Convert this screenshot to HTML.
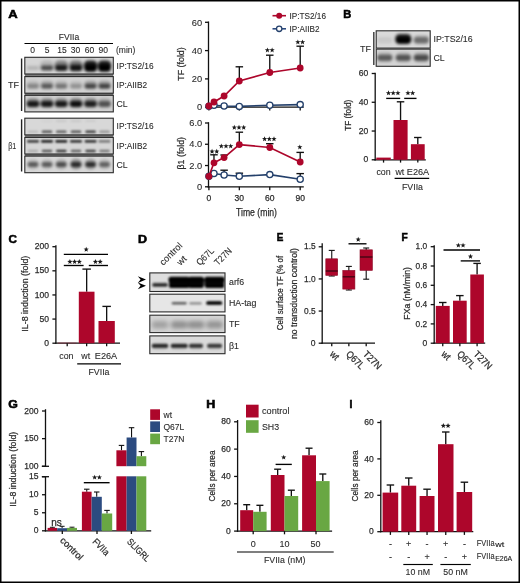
<!DOCTYPE html>
<html><head><meta charset="utf-8"><title>Figure</title>
<style>html,body{margin:0;padding:0;background:#fff}svg{display:block;opacity:0.999;will-change:transform}text{font-family:"Liberation Sans",sans-serif;stroke:#2b2b2b;stroke-width:0.1px}.c{stroke:#2b2b2b;stroke-width:0.25px}</style></head>
<body>
<svg width="520" height="583" viewBox="0 0 520 583" font-family="'Liberation Sans', sans-serif">
<defs>
<filter id="bl0_8" x="-20%" y="-50%" width="140%" height="200%"><feGaussianBlur stdDeviation="0.8"/></filter>
<filter id="bl1_0" x="-20%" y="-50%" width="140%" height="200%"><feGaussianBlur stdDeviation="1.0"/></filter>
<filter id="bl1_2" x="-20%" y="-50%" width="140%" height="200%"><feGaussianBlur stdDeviation="1.2"/></filter>
<filter id="bl1_6" x="-20%" y="-50%" width="140%" height="200%"><feGaussianBlur stdDeviation="1.6"/></filter>
<filter id="bl1_8" x="-20%" y="-50%" width="140%" height="200%"><feGaussianBlur stdDeviation="1.8"/></filter>
<filter id="bl2_0" x="-20%" y="-50%" width="140%" height="200%"><feGaussianBlur stdDeviation="2.0"/></filter>
</defs>
<rect x="0.00" y="0.00" width="520.00" height="583.00" fill="#fff"/>
<rect x="0.75" y="0.75" width="518.5" height="581.5" fill="none" stroke="#000" stroke-width="1.5"/>
<text x="8.2" y="18.1" font-size="10.6" font-weight="bold" fill="#000" textLength="9.4" lengthAdjust="spacingAndGlyphs" style="stroke:#000;stroke-width:0.55px">A</text>
<text x="343.3" y="18.4" font-size="10.6" font-weight="bold" fill="#000" textLength="8.0" lengthAdjust="spacingAndGlyphs" style="stroke:#000;stroke-width:0.55px">B</text>
<text x="8.6" y="242.8" font-size="10.6" font-weight="bold" fill="#000" textLength="8.4" lengthAdjust="spacingAndGlyphs" style="stroke:#000;stroke-width:0.55px">C</text>
<text x="138.0" y="243.0" font-size="10.6" font-weight="bold" fill="#000" textLength="9.0" lengthAdjust="spacingAndGlyphs" style="stroke:#000;stroke-width:0.55px">D</text>
<text x="276.8" y="241.4" font-size="10.6" font-weight="bold" fill="#000" textLength="6.6" lengthAdjust="spacingAndGlyphs" style="stroke:#000;stroke-width:0.55px">E</text>
<text x="401.4" y="241.4" font-size="10.6" font-weight="bold" fill="#000" textLength="6.2" lengthAdjust="spacingAndGlyphs" style="stroke:#000;stroke-width:0.55px">F</text>
<text x="8.3" y="407.6" font-size="10.6" font-weight="bold" fill="#000" textLength="9.6" lengthAdjust="spacingAndGlyphs" style="stroke:#000;stroke-width:0.55px">G</text>
<text x="206.3" y="407.9" font-size="10.6" font-weight="bold" fill="#000" textLength="9.0" lengthAdjust="spacingAndGlyphs" style="stroke:#000;stroke-width:0.55px">H</text>
<text x="349.4" y="407.9" font-size="10.6" font-weight="bold" fill="#000" textLength="2.9" lengthAdjust="spacingAndGlyphs" style="stroke:#000;stroke-width:0.55px">I</text>
<line x1="24.5" y1="43.5" x2="113" y2="43.5" stroke="#000" stroke-width="1.2" stroke-linecap="butt"/>
<text x="69" y="39.6" font-size="8.8" text-anchor="middle" fill="#2b2b2b" textLength="20.5" lengthAdjust="spacingAndGlyphs">FVIIa</text>
<text x="32.5" y="53.2" font-size="8.5" text-anchor="middle" fill="#2b2b2b">0</text>
<text x="47" y="53.2" font-size="8.5" text-anchor="middle" fill="#2b2b2b">5</text>
<text x="62" y="53.2" font-size="8.5" text-anchor="middle" fill="#2b2b2b">15</text>
<text x="75.5" y="53.2" font-size="8.5" text-anchor="middle" fill="#2b2b2b">30</text>
<text x="89.5" y="53.2" font-size="8.5" text-anchor="middle" fill="#2b2b2b">60</text>
<text x="103.3" y="53.2" font-size="8.5" text-anchor="middle" fill="#2b2b2b">90</text>
<text x="116" y="53.2" font-size="8.5" text-anchor="start" fill="#2b2b2b">(min)</text>
<rect x="24.80" y="73.00" width="88.50" height="24.00" fill="#7a7a7a"/>
<rect x="24.80" y="134.00" width="88.50" height="24.00" fill="#7a7a7a"/>
<g clip-path="url(#ca1)">
<clipPath id="ca1"><rect x="24.8" y="57.3" width="88.5" height="16.7"/></clipPath>
<rect x="24.80" y="57.30" width="88.50" height="16.70" fill="#d6d6d6"/>
<g filter="url(#bl1_6)">
<rect x="26.75" y="66.00" width="12.50" height="4.00" rx="1.82" fill="#000" fill-opacity="0.16"/>
<rect x="40.75" y="65.50" width="12.50" height="5.00" rx="2.27" fill="#000" fill-opacity="0.6"/>
<rect x="55.05" y="65.00" width="12.50" height="6.00" rx="2.73" fill="#000" fill-opacity="0.8"/>
<rect x="69.75" y="64.75" width="12.50" height="6.50" rx="2.95" fill="#000" fill-opacity="0.85"/>
<rect x="84.35" y="64.25" width="12.50" height="7.50" rx="3.41" fill="#000" fill-opacity="1.0"/>
<rect x="98.25" y="64.25" width="12.50" height="7.50" rx="3.41" fill="#000" fill-opacity="1.0"/>
<rect x="26.25" y="60.50" width="13.50" height="10.00" rx="4.55" fill="#000" fill-opacity="0"/>
<rect x="40.25" y="60.50" width="13.50" height="10.00" rx="4.55" fill="#000" fill-opacity="0.15"/>
<rect x="54.55" y="60.50" width="13.50" height="10.00" rx="4.55" fill="#000" fill-opacity="0.4"/>
<rect x="69.25" y="60.50" width="13.50" height="10.00" rx="4.55" fill="#000" fill-opacity="0.45"/>
<rect x="83.85" y="60.50" width="13.50" height="10.00" rx="4.55" fill="#000" fill-opacity="0.85"/>
<rect x="97.75" y="60.50" width="13.50" height="10.00" rx="4.55" fill="#000" fill-opacity="0.85"/>
</g></g>
<rect x="24.8" y="57.3" width="88.5" height="16.7" fill="none" stroke="#2a2a2a" stroke-width="1.1"/>
<g clip-path="url(#ca2)">
<clipPath id="ca2"><rect x="24.8" y="76.6" width="88.5" height="16.6"/></clipPath>
<rect x="24.80" y="76.60" width="88.50" height="16.60" fill="#d3d3d3"/>
<g filter="url(#bl1_6)">
<rect x="27.00" y="83.70" width="12.00" height="5.00" rx="2.27" fill="#000" fill-opacity="0.3"/>
<rect x="41.00" y="83.70" width="12.00" height="5.00" rx="2.27" fill="#000" fill-opacity="0.5"/>
<rect x="55.30" y="83.70" width="12.00" height="5.00" rx="2.27" fill="#000" fill-opacity="0.38"/>
<rect x="70.00" y="83.70" width="12.00" height="5.00" rx="2.27" fill="#000" fill-opacity="0.25"/>
<rect x="84.60" y="83.70" width="12.00" height="5.00" rx="2.27" fill="#000" fill-opacity="0.6"/>
<rect x="98.50" y="83.70" width="12.00" height="5.00" rx="2.27" fill="#000" fill-opacity="0.62"/>
<rect x="26.75" y="80.50" width="12.50" height="8.00" rx="3.64" fill="#000" fill-opacity="0.1"/>
<rect x="40.75" y="80.50" width="12.50" height="8.00" rx="3.64" fill="#000" fill-opacity="0.18"/>
<rect x="55.05" y="80.50" width="12.50" height="8.00" rx="3.64" fill="#000" fill-opacity="0.12"/>
<rect x="69.75" y="80.50" width="12.50" height="8.00" rx="3.64" fill="#000" fill-opacity="0.08"/>
<rect x="84.35" y="80.50" width="12.50" height="8.00" rx="3.64" fill="#000" fill-opacity="0.22"/>
<rect x="98.25" y="80.50" width="12.50" height="8.00" rx="3.64" fill="#000" fill-opacity="0.22"/>
</g></g>
<rect x="24.8" y="76.6" width="88.5" height="16.6" fill="none" stroke="#2a2a2a" stroke-width="1.1"/>
<g clip-path="url(#ca3)">
<clipPath id="ca3"><rect x="24.8" y="95.3" width="88.5" height="16.6"/></clipPath>
<rect x="24.80" y="95.30" width="88.50" height="16.60" fill="#d0d0d0"/>
<g filter="url(#bl1_6)">
<rect x="26.75" y="101.00" width="12.50" height="6.00" rx="2.73" fill="#000" fill-opacity="0.85"/>
<rect x="40.75" y="101.00" width="12.50" height="6.00" rx="2.73" fill="#000" fill-opacity="0.85"/>
<rect x="55.05" y="101.00" width="12.50" height="6.00" rx="2.73" fill="#000" fill-opacity="0.85"/>
<rect x="69.75" y="101.00" width="12.50" height="6.00" rx="2.73" fill="#000" fill-opacity="0.9"/>
<rect x="84.35" y="101.00" width="12.50" height="6.00" rx="2.73" fill="#000" fill-opacity="0.8"/>
<rect x="98.25" y="101.00" width="12.50" height="6.00" rx="2.73" fill="#000" fill-opacity="0.55"/>
<rect x="26.50" y="98.05" width="13.00" height="9.50" rx="4.32" fill="#000" fill-opacity="0.3"/>
<rect x="40.50" y="98.05" width="13.00" height="9.50" rx="4.32" fill="#000" fill-opacity="0.3"/>
<rect x="54.80" y="98.05" width="13.00" height="9.50" rx="4.32" fill="#000" fill-opacity="0.3"/>
<rect x="69.50" y="98.05" width="13.00" height="9.50" rx="4.32" fill="#000" fill-opacity="0.35"/>
<rect x="84.10" y="98.05" width="13.00" height="9.50" rx="4.32" fill="#000" fill-opacity="0.3"/>
<rect x="98.00" y="98.05" width="13.00" height="9.50" rx="4.32" fill="#000" fill-opacity="0.15"/>
</g></g>
<rect x="24.8" y="95.3" width="88.5" height="16.6" fill="none" stroke="#2a2a2a" stroke-width="1.1"/>
<line x1="21.6" y1="58.5" x2="21.6" y2="111" stroke="#222" stroke-width="1.4" stroke-linecap="butt"/>
<text x="8.0" y="87.7" font-size="9" text-anchor="start" fill="#2b2b2b">TF</text>
<text x="116.6" y="69.2" font-size="8.7" text-anchor="start" fill="#2b2b2b" textLength="37" lengthAdjust="spacingAndGlyphs">IP:TS2/16</text>
<text x="116.6" y="88" font-size="8.7" text-anchor="start" fill="#2b2b2b" textLength="30.5" lengthAdjust="spacingAndGlyphs">IP:AIIB2</text>
<text x="116.6" y="106.5" font-size="8.7" text-anchor="start" fill="#2b2b2b">CL</text>
<g clip-path="url(#ca4)">
<clipPath id="ca4"><rect x="24.8" y="118.2" width="88.5" height="16.7"/></clipPath>
<rect x="24.80" y="118.20" width="88.50" height="16.70" fill="#d8d8d8"/>
<g filter="url(#bl1_0)">
<rect x="27.75" y="130.50" width="10.50" height="2.60" rx="1.18" fill="#000" fill-opacity="0.12"/>
<rect x="41.75" y="130.50" width="10.50" height="2.60" rx="1.18" fill="#000" fill-opacity="0.6"/>
<rect x="56.05" y="130.50" width="10.50" height="2.60" rx="1.18" fill="#000" fill-opacity="0.55"/>
<rect x="70.75" y="130.50" width="10.50" height="2.60" rx="1.18" fill="#000" fill-opacity="0.6"/>
<rect x="85.35" y="130.50" width="10.50" height="2.60" rx="1.18" fill="#000" fill-opacity="0.7"/>
<rect x="99.25" y="130.50" width="10.50" height="2.60" rx="1.18" fill="#000" fill-opacity="0.3"/>
<rect x="27.50" y="120.00" width="11.00" height="2.00" rx="0.91" fill="#000" fill-opacity="0.0"/>
<rect x="41.50" y="120.00" width="11.00" height="2.00" rx="0.91" fill="#000" fill-opacity="0.03"/>
<rect x="55.80" y="120.00" width="11.00" height="2.00" rx="0.91" fill="#000" fill-opacity="0.08"/>
<rect x="70.50" y="120.00" width="11.00" height="2.00" rx="0.91" fill="#000" fill-opacity="0.08"/>
<rect x="85.10" y="120.00" width="11.00" height="2.00" rx="0.91" fill="#000" fill-opacity="0.06"/>
<rect x="99.00" y="120.00" width="11.00" height="2.00" rx="0.91" fill="#000" fill-opacity="0.0"/>
</g></g>
<rect x="24.8" y="118.2" width="88.5" height="16.7" fill="none" stroke="#2a2a2a" stroke-width="1.1"/>
<g clip-path="url(#ca5)">
<clipPath id="ca5"><rect x="24.8" y="137.4" width="88.5" height="16.6"/></clipPath>
<rect x="24.80" y="137.40" width="88.50" height="16.60" fill="#d6d6d6"/>
<g filter="url(#bl0_8)">
<rect x="27.00" y="140.15" width="12.00" height="2.30" rx="1.05" fill="#000" fill-opacity="0.85"/>
<rect x="41.00" y="140.15" width="12.00" height="2.30" rx="1.05" fill="#000" fill-opacity="1.0"/>
<rect x="55.30" y="140.15" width="12.00" height="2.30" rx="1.05" fill="#000" fill-opacity="1.0"/>
<rect x="70.00" y="140.15" width="12.00" height="2.30" rx="1.05" fill="#000" fill-opacity="0.9"/>
<rect x="84.60" y="140.15" width="12.00" height="2.30" rx="1.05" fill="#000" fill-opacity="0.9"/>
<rect x="98.50" y="140.15" width="12.00" height="2.30" rx="1.05" fill="#000" fill-opacity="0.5"/>
<rect x="27.75" y="149.70" width="10.50" height="2.60" rx="1.18" fill="#000" fill-opacity="0.2"/>
<rect x="41.75" y="149.70" width="10.50" height="2.60" rx="1.18" fill="#000" fill-opacity="0.6"/>
<rect x="56.05" y="149.70" width="10.50" height="2.60" rx="1.18" fill="#000" fill-opacity="0.75"/>
<rect x="70.75" y="149.70" width="10.50" height="2.60" rx="1.18" fill="#000" fill-opacity="0.55"/>
<rect x="85.35" y="149.70" width="10.50" height="2.60" rx="1.18" fill="#000" fill-opacity="0.7"/>
<rect x="99.25" y="149.70" width="10.50" height="2.60" rx="1.18" fill="#000" fill-opacity="0.45"/>
</g></g>
<rect x="24.8" y="137.4" width="88.5" height="16.6" fill="none" stroke="#2a2a2a" stroke-width="1.1"/>
<g clip-path="url(#ca6)">
<clipPath id="ca6"><rect x="24.8" y="156.1" width="88.5" height="16.6"/></clipPath>
<rect x="24.80" y="156.10" width="88.50" height="16.60" fill="#d8d8d8"/>
<g filter="url(#bl1_6)">
<rect x="27.50" y="162.00" width="11.00" height="5.00" rx="2.27" fill="#000" fill-opacity="0.55"/>
<rect x="41.50" y="162.00" width="11.00" height="5.00" rx="2.27" fill="#000" fill-opacity="0.55"/>
<rect x="55.80" y="162.00" width="11.00" height="5.00" rx="2.27" fill="#000" fill-opacity="0.6"/>
<rect x="70.50" y="162.00" width="11.00" height="5.00" rx="2.27" fill="#000" fill-opacity="0.75"/>
<rect x="85.10" y="162.00" width="11.00" height="5.00" rx="2.27" fill="#000" fill-opacity="0.75"/>
<rect x="99.00" y="162.00" width="11.00" height="5.00" rx="2.27" fill="#000" fill-opacity="0.5"/>
<rect x="27.50" y="158.50" width="11.00" height="11.00" rx="5.00" fill="#000" fill-opacity="0.1"/>
<rect x="41.50" y="158.50" width="11.00" height="11.00" rx="5.00" fill="#000" fill-opacity="0.1"/>
<rect x="55.80" y="158.50" width="11.00" height="11.00" rx="5.00" fill="#000" fill-opacity="0.15"/>
<rect x="70.50" y="158.50" width="11.00" height="11.00" rx="5.00" fill="#000" fill-opacity="0.3"/>
<rect x="85.10" y="158.50" width="11.00" height="11.00" rx="5.00" fill="#000" fill-opacity="0.25"/>
<rect x="99.00" y="158.50" width="11.00" height="11.00" rx="5.00" fill="#000" fill-opacity="0.12"/>
</g></g>
<rect x="24.8" y="156.1" width="88.5" height="16.6" fill="none" stroke="#2a2a2a" stroke-width="1.1"/>
<line x1="21.6" y1="119.3" x2="21.6" y2="171.5" stroke="#222" stroke-width="1.4" stroke-linecap="butt"/>
<text x="8.2" y="149.2" font-size="8.8" text-anchor="start" fill="#2b2b2b" textLength="8" lengthAdjust="spacingAndGlyphs">β1</text>
<text x="116.6" y="129.4" font-size="8.7" text-anchor="start" fill="#2b2b2b" textLength="37" lengthAdjust="spacingAndGlyphs">IP:TS2/16</text>
<text x="116.6" y="148.5" font-size="8.7" text-anchor="start" fill="#2b2b2b" textLength="30.5" lengthAdjust="spacingAndGlyphs">IP:AIIB2</text>
<text x="116.6" y="167.7" font-size="8.7" text-anchor="start" fill="#2b2b2b">CL</text>
<line x1="208.5" y1="21.5" x2="208.5" y2="107.85000000000001" stroke="#111" stroke-width="1.3" stroke-linecap="butt"/>
<line x1="205.0" y1="107.2" x2="208.5" y2="107.2" stroke="#111" stroke-width="1.3" stroke-linecap="butt"/>
<text x="202.2" y="110.4" font-size="9.3" text-anchor="end" fill="#2b2b2b">0</text>
<line x1="205.0" y1="78.9" x2="208.5" y2="78.9" stroke="#111" stroke-width="1.3" stroke-linecap="butt"/>
<text x="202.2" y="82.10000000000001" font-size="9.3" text-anchor="end" fill="#2b2b2b">20</text>
<line x1="205.0" y1="50.6" x2="208.5" y2="50.6" stroke="#111" stroke-width="1.3" stroke-linecap="butt"/>
<text x="202.2" y="53.800000000000004" font-size="9.3" text-anchor="end" fill="#2b2b2b">40</text>
<line x1="205.0" y1="22.299999999999997" x2="208.5" y2="22.299999999999997" stroke="#111" stroke-width="1.3" stroke-linecap="butt"/>
<text x="202.2" y="25.499999999999996" font-size="9.3" text-anchor="end" fill="#2b2b2b">60</text>
<line x1="207.6" y1="107.2" x2="303.8" y2="107.2" stroke="#111" stroke-width="1.3" stroke-linecap="butt"/>
<line x1="208.9" y1="107.2" x2="208.9" y2="110.6" stroke="#111" stroke-width="1.3" stroke-linecap="butt"/>
<line x1="239.33333333333334" y1="107.2" x2="239.33333333333334" y2="110.6" stroke="#111" stroke-width="1.3" stroke-linecap="butt"/>
<line x1="269.76666666666665" y1="107.2" x2="269.76666666666665" y2="110.6" stroke="#111" stroke-width="1.3" stroke-linecap="butt"/>
<line x1="300.2" y1="107.2" x2="300.2" y2="110.6" stroke="#111" stroke-width="1.3" stroke-linecap="butt"/>
<text class="c" x="181.2" y="64.0" font-size="9.8" text-anchor="middle" fill="#2b2b2b" textLength="33.5" lengthAdjust="spacingAndGlyphs" transform="rotate(-90 181.2 64.0)" dy="2.55">TF (fold)</text>
<polyline points="208.9,106.2 214.0,105.2 224.1,106 239.3,106.4 269.8,105.2 300.2,104.6" fill="none" stroke="#24406b" stroke-width="1.6"/>
<circle cx="208.9" cy="106.2" r="3.1" fill="#fff" stroke="#24406b" stroke-width="1.3"/>
<circle cx="214.0" cy="105.2" r="3.1" fill="#fff" stroke="#24406b" stroke-width="1.3"/>
<circle cx="224.1" cy="106" r="3.1" fill="#fff" stroke="#24406b" stroke-width="1.3"/>
<circle cx="239.3" cy="106.4" r="3.1" fill="#fff" stroke="#24406b" stroke-width="1.3"/>
<circle cx="269.8" cy="105.2" r="3.1" fill="#fff" stroke="#24406b" stroke-width="1.3"/>
<circle cx="300.2" cy="104.6" r="3.1" fill="#fff" stroke="#24406b" stroke-width="1.3"/>
<line x1="239.33333333333334" y1="81" x2="239.33333333333334" y2="66.8" stroke="#111" stroke-width="1.35" stroke-linecap="butt"/>
<line x1="235.58333333333334" y1="66.8" x2="243.08333333333334" y2="66.8" stroke="#111" stroke-width="1.35" stroke-linecap="butt"/>
<line x1="269.76666666666665" y1="72.5" x2="269.76666666666665" y2="55.2" stroke="#111" stroke-width="1.35" stroke-linecap="butt"/>
<line x1="266.01666666666665" y1="55.2" x2="273.51666666666665" y2="55.2" stroke="#111" stroke-width="1.35" stroke-linecap="butt"/>
<line x1="300.2" y1="68" x2="300.2" y2="46.2" stroke="#111" stroke-width="1.35" stroke-linecap="butt"/>
<line x1="296.45" y1="46.2" x2="303.95" y2="46.2" stroke="#111" stroke-width="1.35" stroke-linecap="butt"/>
<polyline points="208.9,106 214.0,102 224.1,96 239.3,81 269.8,72.5 300.2,68" fill="none" stroke="#ad062b" stroke-width="1.7"/>
<circle cx="208.9" cy="106" r="3.4" fill="#ad062b"/>
<circle cx="214.0" cy="102" r="3.4" fill="#ad062b"/>
<circle cx="224.1" cy="96" r="3.4" fill="#ad062b"/>
<circle cx="239.3" cy="81" r="3.4" fill="#ad062b"/>
<circle cx="269.8" cy="72.5" r="3.4" fill="#ad062b"/>
<circle cx="300.2" cy="68" r="3.4" fill="#ad062b"/>
<polygon points="267.42,47.45 268.09,49.27 270.03,49.35 268.51,50.56 269.03,52.42 267.42,51.35 265.80,52.42 266.32,50.56 264.80,49.35 266.74,49.27" fill="#1a1a1a"/>
<polygon points="272.12,47.45 272.79,49.27 274.73,49.35 273.21,50.56 273.73,52.42 272.12,51.35 270.50,52.42 271.02,50.56 269.50,49.35 271.44,49.27" fill="#1a1a1a"/>
<polygon points="297.85,39.45 298.53,41.27 300.47,41.35 298.94,42.56 299.47,44.42 297.85,43.35 296.23,44.42 296.76,42.56 295.23,41.35 297.17,41.27" fill="#1a1a1a"/>
<polygon points="302.55,39.45 303.23,41.27 305.17,41.35 303.64,42.56 304.17,44.42 302.55,43.35 300.93,44.42 301.46,42.56 299.93,41.35 301.87,41.27" fill="#1a1a1a"/>
<line x1="272.5" y1="15.7" x2="286" y2="15.7" stroke="#ad062b" stroke-width="1.6" stroke-linecap="butt"/>
<circle cx="279.2" cy="15.7" r="3" fill="#ad062b"/>
<text x="289.5" y="18.7" font-size="8.4" text-anchor="start" fill="#2b2b2b" textLength="36.5" lengthAdjust="spacingAndGlyphs">IP:TS2/16</text>
<line x1="272.5" y1="28.8" x2="286" y2="28.8" stroke="#2c4b80" stroke-width="1.6" stroke-linecap="butt"/>
<circle cx="279.2" cy="28.8" r="2.7" fill="#fff" stroke="#24406b" stroke-width="1.3"/>
<text x="289.5" y="31.8" font-size="8.4" text-anchor="start" fill="#2b2b2b" textLength="30" lengthAdjust="spacingAndGlyphs">IP:AIIB2</text>
<line x1="208.5" y1="122.2" x2="208.5" y2="187.45000000000002" stroke="#111" stroke-width="1.3" stroke-linecap="butt"/>
<line x1="205.0" y1="186.8" x2="208.5" y2="186.8" stroke="#111" stroke-width="1.3" stroke-linecap="butt"/>
<text x="202.2" y="190.0" font-size="9.3" text-anchor="end" fill="#2b2b2b">0</text>
<line x1="205.0" y1="165.53333333333333" x2="208.5" y2="165.53333333333333" stroke="#111" stroke-width="1.3" stroke-linecap="butt"/>
<text x="202.2" y="168.73333333333332" font-size="9.3" text-anchor="end" fill="#2b2b2b">2.0</text>
<line x1="205.0" y1="144.26666666666668" x2="208.5" y2="144.26666666666668" stroke="#111" stroke-width="1.3" stroke-linecap="butt"/>
<text x="202.2" y="147.46666666666667" font-size="9.3" text-anchor="end" fill="#2b2b2b">4.0</text>
<line x1="205.0" y1="123.0" x2="208.5" y2="123.0" stroke="#111" stroke-width="1.3" stroke-linecap="butt"/>
<text x="202.2" y="126.2" font-size="9.3" text-anchor="end" fill="#2b2b2b">6.0</text>
<line x1="207.6" y1="186.8" x2="303.8" y2="186.8" stroke="#111" stroke-width="1.3" stroke-linecap="butt"/>
<line x1="208.9" y1="186.8" x2="208.9" y2="190.2" stroke="#111" stroke-width="1.3" stroke-linecap="butt"/>
<text x="208.9" y="201.3" font-size="9" text-anchor="middle" fill="#2b2b2b" textLength="4.75" lengthAdjust="spacingAndGlyphs" class="c">0</text>
<line x1="239.33333333333334" y1="186.8" x2="239.33333333333334" y2="190.2" stroke="#111" stroke-width="1.3" stroke-linecap="butt"/>
<text x="239.33333333333334" y="201.3" font-size="9" text-anchor="middle" fill="#2b2b2b" textLength="9.5" lengthAdjust="spacingAndGlyphs" class="c">30</text>
<line x1="269.76666666666665" y1="186.8" x2="269.76666666666665" y2="190.2" stroke="#111" stroke-width="1.3" stroke-linecap="butt"/>
<text x="269.76666666666665" y="201.3" font-size="9" text-anchor="middle" fill="#2b2b2b" textLength="9.5" lengthAdjust="spacingAndGlyphs" class="c">60</text>
<line x1="300.2" y1="186.8" x2="300.2" y2="190.2" stroke="#111" stroke-width="1.3" stroke-linecap="butt"/>
<text x="300.2" y="201.3" font-size="9" text-anchor="middle" fill="#2b2b2b" textLength="9.5" lengthAdjust="spacingAndGlyphs" class="c">90</text>
<text x="256.5" y="216.3" font-size="10.4" text-anchor="middle" fill="#2b2b2b" textLength="41" lengthAdjust="spacingAndGlyphs" class="c">Time (min)</text>
<text class="c" x="181.2" y="153.2" font-size="9.8" text-anchor="middle" fill="#2b2b2b" textLength="32.5" lengthAdjust="spacingAndGlyphs" transform="rotate(-90 181.2 153.2)" dy="2.55">β1 (fold)</text>
<line x1="224.11666666666667" y1="175" x2="224.11666666666667" y2="170.2" stroke="#111" stroke-width="1.35" stroke-linecap="butt"/>
<line x1="220.36666666666667" y1="170.2" x2="227.86666666666667" y2="170.2" stroke="#111" stroke-width="1.35" stroke-linecap="butt"/>
<line x1="239.33333333333334" y1="176.3" x2="239.33333333333334" y2="173.2" stroke="#111" stroke-width="1.35" stroke-linecap="butt"/>
<line x1="235.58333333333334" y1="173.2" x2="243.08333333333334" y2="173.2" stroke="#111" stroke-width="1.35" stroke-linecap="butt"/>
<line x1="300.2" y1="179.2" x2="300.2" y2="173.6" stroke="#111" stroke-width="1.35" stroke-linecap="butt"/>
<line x1="296.45" y1="173.6" x2="303.95" y2="173.6" stroke="#111" stroke-width="1.35" stroke-linecap="butt"/>
<polyline points="208.9,176.3 214.0,173.5 224.1,175 239.3,176.3 269.8,174.6 300.2,179.2" fill="none" stroke="#24406b" stroke-width="1.6"/>
<circle cx="208.9" cy="176.3" r="3.1" fill="#fff" stroke="#24406b" stroke-width="1.3"/>
<circle cx="214.0" cy="173.5" r="3.1" fill="#fff" stroke="#24406b" stroke-width="1.3"/>
<circle cx="224.1" cy="175" r="3.1" fill="#fff" stroke="#24406b" stroke-width="1.3"/>
<circle cx="239.3" cy="176.3" r="3.1" fill="#fff" stroke="#24406b" stroke-width="1.3"/>
<circle cx="269.8" cy="174.6" r="3.1" fill="#fff" stroke="#24406b" stroke-width="1.3"/>
<circle cx="300.2" cy="179.2" r="3.1" fill="#fff" stroke="#24406b" stroke-width="1.3"/>
<line x1="213.97222222222223" y1="162.8" x2="213.97222222222223" y2="154.8" stroke="#111" stroke-width="1.35" stroke-linecap="butt"/>
<line x1="210.22222222222223" y1="154.8" x2="217.72222222222223" y2="154.8" stroke="#111" stroke-width="1.35" stroke-linecap="butt"/>
<line x1="224.11666666666667" y1="157.6" x2="224.11666666666667" y2="155.0" stroke="#111" stroke-width="1.35" stroke-linecap="butt"/>
<line x1="220.36666666666667" y1="155.0" x2="227.86666666666667" y2="155.0" stroke="#111" stroke-width="1.35" stroke-linecap="butt"/>
<line x1="239.33333333333334" y1="144.6" x2="239.33333333333334" y2="132.2" stroke="#111" stroke-width="1.35" stroke-linecap="butt"/>
<line x1="235.58333333333334" y1="132.2" x2="243.08333333333334" y2="132.2" stroke="#111" stroke-width="1.35" stroke-linecap="butt"/>
<line x1="269.76666666666665" y1="147.5" x2="269.76666666666665" y2="143.7" stroke="#111" stroke-width="1.35" stroke-linecap="butt"/>
<line x1="266.01666666666665" y1="143.7" x2="273.51666666666665" y2="143.7" stroke="#111" stroke-width="1.35" stroke-linecap="butt"/>
<line x1="300.2" y1="162" x2="300.2" y2="152.4" stroke="#111" stroke-width="1.35" stroke-linecap="butt"/>
<line x1="296.45" y1="152.4" x2="303.95" y2="152.4" stroke="#111" stroke-width="1.35" stroke-linecap="butt"/>
<polyline points="208.9,176.3 214.0,162.8 224.1,157.6 239.3,144.6 269.8,147.5 300.2,162" fill="none" stroke="#ad062b" stroke-width="1.7"/>
<circle cx="208.9" cy="176.3" r="3.4" fill="#ad062b"/>
<circle cx="214.0" cy="162.8" r="3.4" fill="#ad062b"/>
<circle cx="224.1" cy="157.6" r="3.4" fill="#ad062b"/>
<circle cx="239.3" cy="144.6" r="3.4" fill="#ad062b"/>
<circle cx="269.8" cy="147.5" r="3.4" fill="#ad062b"/>
<circle cx="300.2" cy="162" r="3.4" fill="#ad062b"/>
<polygon points="212.05,148.75 212.73,150.57 214.67,150.65 213.14,151.86 213.67,153.72 212.05,152.65 210.43,153.72 210.96,151.86 209.43,150.65 211.37,150.57" fill="#1a1a1a"/>
<polygon points="216.75,148.75 217.43,150.57 219.37,150.65 217.84,151.86 218.37,153.72 216.75,152.65 215.13,153.72 215.66,151.86 214.13,150.65 216.07,150.57" fill="#1a1a1a"/>
<polygon points="221.30,143.45 221.98,145.27 223.92,145.35 222.39,146.56 222.92,148.42 221.30,147.35 219.68,148.42 220.21,146.56 218.68,145.35 220.62,145.27" fill="#1a1a1a"/>
<polygon points="226.00,143.45 226.68,145.27 228.62,145.35 227.09,146.56 227.62,148.42 226.00,147.35 224.38,148.42 224.91,146.56 223.38,145.35 225.32,145.27" fill="#1a1a1a"/>
<polygon points="230.70,143.45 231.38,145.27 233.32,145.35 231.79,146.56 232.32,148.42 230.70,147.35 229.08,148.42 229.61,146.56 228.08,145.35 230.02,145.27" fill="#1a1a1a"/>
<polygon points="234.30,124.75 234.98,126.57 236.92,126.65 235.39,127.86 235.92,129.72 234.30,128.65 232.68,129.72 233.21,127.86 231.68,126.65 233.62,126.57" fill="#1a1a1a"/>
<polygon points="239.00,124.75 239.68,126.57 241.62,126.65 240.09,127.86 240.62,129.72 239.00,128.65 237.38,129.72 237.91,127.86 236.38,126.65 238.32,126.57" fill="#1a1a1a"/>
<polygon points="243.70,124.75 244.38,126.57 246.32,126.65 244.79,127.86 245.32,129.72 243.70,128.65 242.08,129.72 242.61,127.86 241.08,126.65 243.02,126.57" fill="#1a1a1a"/>
<polygon points="264.60,136.25 265.28,138.07 267.22,138.15 265.69,139.36 266.22,141.22 264.60,140.15 262.98,141.22 263.51,139.36 261.98,138.15 263.92,138.07" fill="#1a1a1a"/>
<polygon points="269.30,136.25 269.98,138.07 271.92,138.15 270.39,139.36 270.92,141.22 269.30,140.15 267.68,141.22 268.21,139.36 266.68,138.15 268.62,138.07" fill="#1a1a1a"/>
<polygon points="274.00,136.25 274.68,138.07 276.62,138.15 275.09,139.36 275.62,141.22 274.00,140.15 272.38,141.22 272.91,139.36 271.38,138.15 273.32,138.07" fill="#1a1a1a"/>
<polygon points="299.80,144.45 300.48,146.27 302.42,146.35 300.89,147.56 301.42,149.42 299.80,148.35 298.18,149.42 298.71,147.56 297.18,146.35 299.12,146.27" fill="#1a1a1a"/>
<g clip-path="url(#cb1)">
<clipPath id="cb1"><rect x="376.2" y="30.8" width="54" height="17.3"/></clipPath>
<rect x="376.20" y="30.80" width="54.00" height="17.30" fill="#dadada"/>
<g filter="url(#bl1_6)">
<rect x="377.30" y="37.05" width="15.00" height="6.50" rx="2.95" fill="#000" fill-opacity="0.08"/>
<rect x="395.80" y="37.05" width="15.00" height="6.50" rx="2.95" fill="#000" fill-opacity="1.0"/>
<rect x="413.80" y="37.05" width="15.00" height="6.50" rx="2.95" fill="#000" fill-opacity="0.42"/>
<rect x="395.30" y="34.00" width="16.00" height="10.00" rx="4.55" fill="#000" fill-opacity="0.85"/>
<rect x="413.80" y="35.00" width="15.00" height="9.00" rx="4.09" fill="#000" fill-opacity="0.15"/>
</g></g>
<rect x="376.2" y="30.8" width="54" height="17.3" fill="none" stroke="#2a2a2a" stroke-width="1.1"/>
<g clip-path="url(#cb2)">
<clipPath id="cb2"><rect x="376.2" y="49.1" width="54" height="17.2"/></clipPath>
<rect x="376.20" y="49.10" width="54.00" height="17.20" fill="#d4d4d4"/>
<g filter="url(#bl1_6)">
<rect x="377.30" y="54.80" width="15.00" height="6.00" rx="2.73" fill="#000" fill-opacity="0.5"/>
<rect x="395.80" y="54.80" width="15.00" height="6.00" rx="2.73" fill="#000" fill-opacity="0.55"/>
<rect x="413.80" y="54.80" width="15.00" height="6.00" rx="2.73" fill="#000" fill-opacity="0.58"/>
<rect x="377.05" y="52.30" width="15.50" height="10.00" rx="4.55" fill="#000" fill-opacity="0.15"/>
<rect x="395.55" y="52.30" width="15.50" height="10.00" rx="4.55" fill="#000" fill-opacity="0.15"/>
<rect x="413.55" y="52.30" width="15.50" height="10.00" rx="4.55" fill="#000" fill-opacity="0.18"/>
</g></g>
<rect x="376.2" y="49.1" width="54" height="17.2" fill="none" stroke="#2a2a2a" stroke-width="1.1"/>
<line x1="373.8" y1="32" x2="373.8" y2="65" stroke="#444" stroke-width="1.5" stroke-linecap="butt"/>
<text x="359.9" y="51.5" font-size="9" text-anchor="start" fill="#2b2b2b">TF</text>
<text x="433.5" y="42.3" font-size="8.8" text-anchor="start" fill="#2b2b2b">IP:TS2/16</text>
<text x="433.5" y="60.5" font-size="8.8" text-anchor="start" fill="#2b2b2b">CL</text>
<line x1="375.2" y1="72.8" x2="375.2" y2="160.45000000000002" stroke="#111" stroke-width="1.3" stroke-linecap="butt"/>
<line x1="371.7" y1="159.8" x2="375.2" y2="159.8" stroke="#111" stroke-width="1.3" stroke-linecap="butt"/>
<text x="368.2" y="162.465" font-size="9.9" text-anchor="end" fill="#2b2b2b" textLength="4.75" lengthAdjust="spacingAndGlyphs" class="c">0</text>
<line x1="371.7" y1="131.03333333333333" x2="375.2" y2="131.03333333333333" stroke="#111" stroke-width="1.3" stroke-linecap="butt"/>
<text x="368.2" y="133.69833333333332" font-size="9.9" text-anchor="end" fill="#2b2b2b" textLength="9.5" lengthAdjust="spacingAndGlyphs" class="c">20</text>
<line x1="371.7" y1="102.26666666666668" x2="375.2" y2="102.26666666666668" stroke="#111" stroke-width="1.3" stroke-linecap="butt"/>
<text x="368.2" y="104.93166666666669" font-size="9.9" text-anchor="end" fill="#2b2b2b" textLength="9.5" lengthAdjust="spacingAndGlyphs" class="c">40</text>
<line x1="371.7" y1="73.5" x2="375.2" y2="73.5" stroke="#111" stroke-width="1.3" stroke-linecap="butt"/>
<text x="368.2" y="76.165" font-size="9.9" text-anchor="end" fill="#2b2b2b" textLength="9.5" lengthAdjust="spacingAndGlyphs" class="c">60</text>
<line x1="374.5" y1="159.8" x2="425.8" y2="159.8" stroke="#111" stroke-width="1.3" stroke-linecap="butt"/>
<rect x="376.30" y="157.60" width="14.50" height="2.20" fill="#ad062b"/>
<line x1="383.55" y1="159.8" x2="383.55" y2="162.6" stroke="#111" stroke-width="1.3" stroke-linecap="butt"/>
<line x1="400.55" y1="120.0" x2="400.55" y2="101.8" stroke="#111" stroke-width="1.35" stroke-linecap="butt"/>
<line x1="396.8" y1="101.8" x2="404.3" y2="101.8" stroke="#111" stroke-width="1.35" stroke-linecap="butt"/>
<rect x="393.50" y="120.00" width="14.10" height="39.80" fill="#ad062b"/>
<line x1="400.55" y1="159.8" x2="400.55" y2="162.6" stroke="#111" stroke-width="1.3" stroke-linecap="butt"/>
<line x1="417.79999999999995" y1="144.2" x2="417.79999999999995" y2="137.5" stroke="#111" stroke-width="1.35" stroke-linecap="butt"/>
<line x1="414.04999999999995" y1="137.5" x2="421.54999999999995" y2="137.5" stroke="#111" stroke-width="1.35" stroke-linecap="butt"/>
<rect x="410.90" y="144.20" width="13.80" height="15.60" fill="#ad062b"/>
<line x1="417.79999999999995" y1="159.8" x2="417.79999999999995" y2="162.6" stroke="#111" stroke-width="1.3" stroke-linecap="butt"/>
<line x1="386.2" y1="98.4" x2="400.2" y2="98.4" stroke="#000" stroke-width="1.35" stroke-linecap="butt"/>
<line x1="404.2" y1="98.4" x2="416.5" y2="98.4" stroke="#000" stroke-width="1.35" stroke-linecap="butt"/>
<polygon points="388.50,90.35 389.18,92.17 391.12,92.25 389.59,93.46 390.12,95.32 388.50,94.25 386.88,95.32 387.41,93.46 385.88,92.25 387.82,92.17" fill="#1a1a1a"/>
<polygon points="393.20,90.35 393.88,92.17 395.82,92.25 394.29,93.46 394.82,95.32 393.20,94.25 391.58,95.32 392.11,93.46 390.58,92.25 392.52,92.17" fill="#1a1a1a"/>
<polygon points="397.90,90.35 398.58,92.17 400.52,92.25 398.99,93.46 399.52,95.32 397.90,94.25 396.28,95.32 396.81,93.46 395.28,92.25 397.22,92.17" fill="#1a1a1a"/>
<polygon points="407.95,90.35 408.63,92.17 410.57,92.25 409.04,93.46 409.57,95.32 407.95,94.25 406.33,95.32 406.86,93.46 405.33,92.25 407.27,92.17" fill="#1a1a1a"/>
<polygon points="412.65,90.35 413.33,92.17 415.27,92.25 413.74,93.46 414.27,95.32 412.65,94.25 411.03,95.32 411.56,93.46 410.03,92.25 411.97,92.17" fill="#1a1a1a"/>
<text x="383.5" y="174.6" font-size="8.8" text-anchor="middle" fill="#2b2b2b">con</text>
<text x="399.8" y="174.6" font-size="8.8" text-anchor="middle" fill="#2b2b2b">wt</text>
<text x="418" y="174.6" font-size="8.8" text-anchor="middle" fill="#2b2b2b" textLength="22.5" lengthAdjust="spacingAndGlyphs">E26A</text>
<line x1="394.6" y1="178.3" x2="429.2" y2="178.3" stroke="#000" stroke-width="1.15" stroke-linecap="butt"/>
<text x="412.5" y="189.8" font-size="8.8" text-anchor="middle" fill="#2b2b2b">FVIIa</text>
<text class="c" x="348.6" y="115.2" font-size="9" text-anchor="middle" fill="#2b2b2b" textLength="31" lengthAdjust="spacingAndGlyphs" transform="rotate(-90 348.6 115.2)" dy="2.34">TF (fold)</text>
<line x1="55.9" y1="245.2" x2="55.9" y2="343.84999999999997" stroke="#111" stroke-width="1.3" stroke-linecap="butt"/>
<line x1="52.4" y1="343.2" x2="55.9" y2="343.2" stroke="#111" stroke-width="1.3" stroke-linecap="butt"/>
<text x="48.9" y="345.86499999999995" font-size="9.9" text-anchor="end" fill="#2b2b2b" textLength="4.75" lengthAdjust="spacingAndGlyphs" class="c">0</text>
<line x1="52.4" y1="319.075" x2="55.9" y2="319.075" stroke="#111" stroke-width="1.3" stroke-linecap="butt"/>
<text x="48.9" y="321.73999999999995" font-size="9.9" text-anchor="end" fill="#2b2b2b" textLength="9.5" lengthAdjust="spacingAndGlyphs" class="c">50</text>
<line x1="52.4" y1="294.95" x2="55.9" y2="294.95" stroke="#111" stroke-width="1.3" stroke-linecap="butt"/>
<text x="48.9" y="297.61499999999995" font-size="9.9" text-anchor="end" fill="#2b2b2b" textLength="14.25" lengthAdjust="spacingAndGlyphs" class="c">100</text>
<line x1="52.4" y1="270.825" x2="55.9" y2="270.825" stroke="#111" stroke-width="1.3" stroke-linecap="butt"/>
<text x="48.9" y="273.48999999999995" font-size="9.9" text-anchor="end" fill="#2b2b2b" textLength="14.25" lengthAdjust="spacingAndGlyphs" class="c">150</text>
<line x1="52.4" y1="246.7" x2="55.9" y2="246.7" stroke="#111" stroke-width="1.3" stroke-linecap="butt"/>
<text x="48.9" y="249.36499999999998" font-size="9.9" text-anchor="end" fill="#2b2b2b" textLength="14.25" lengthAdjust="spacingAndGlyphs" class="c">200</text>
<line x1="55.2" y1="343.2" x2="120.0" y2="343.2" stroke="#111" stroke-width="1.3" stroke-linecap="butt"/>
<rect x="57.80" y="342.80" width="18.80" height="0.40" fill="#ad062b"/>
<line x1="67.19999999999999" y1="343.2" x2="67.19999999999999" y2="346.2" stroke="#111" stroke-width="1.3" stroke-linecap="butt"/>
<line x1="86.65" y1="291.7" x2="86.65" y2="269.1" stroke="#111" stroke-width="1.35" stroke-linecap="butt"/>
<line x1="82.4" y1="269.1" x2="90.9" y2="269.1" stroke="#111" stroke-width="1.35" stroke-linecap="butt"/>
<rect x="78.80" y="291.70" width="15.70" height="51.50" fill="#ad062b"/>
<line x1="86.65" y1="343.2" x2="86.65" y2="346.2" stroke="#111" stroke-width="1.3" stroke-linecap="butt"/>
<line x1="106.65" y1="321.0" x2="106.65" y2="306.4" stroke="#111" stroke-width="1.35" stroke-linecap="butt"/>
<line x1="102.4" y1="306.4" x2="110.9" y2="306.4" stroke="#111" stroke-width="1.35" stroke-linecap="butt"/>
<rect x="98.50" y="321.00" width="16.30" height="22.20" fill="#ad062b"/>
<line x1="106.65" y1="343.2" x2="106.65" y2="346.2" stroke="#111" stroke-width="1.3" stroke-linecap="butt"/>
<line x1="63.8" y1="254.4" x2="108" y2="254.4" stroke="#000" stroke-width="1.35" stroke-linecap="butt"/>
<line x1="63.8" y1="265.5" x2="83.6" y2="265.5" stroke="#000" stroke-width="1.35" stroke-linecap="butt"/>
<line x1="88.8" y1="265.5" x2="108" y2="265.5" stroke="#000" stroke-width="1.35" stroke-linecap="butt"/>
<polygon points="86.20,246.75 86.88,248.57 88.82,248.65 87.29,249.86 87.82,251.72 86.20,250.65 84.58,251.72 85.11,249.86 83.58,248.65 85.52,248.57" fill="#1a1a1a"/>
<polygon points="69.90,259.05 70.58,260.87 72.52,260.95 70.99,262.16 71.52,264.02 69.90,262.95 68.28,264.02 68.81,262.16 67.28,260.95 69.22,260.87" fill="#1a1a1a"/>
<polygon points="74.60,259.05 75.28,260.87 77.22,260.95 75.69,262.16 76.22,264.02 74.60,262.95 72.98,264.02 73.51,262.16 71.98,260.95 73.92,260.87" fill="#1a1a1a"/>
<polygon points="79.30,259.05 79.98,260.87 81.92,260.95 80.39,262.16 80.92,264.02 79.30,262.95 77.68,264.02 78.21,262.16 76.68,260.95 78.62,260.87" fill="#1a1a1a"/>
<polygon points="95.45,259.05 96.13,260.87 98.07,260.95 96.54,262.16 97.07,264.02 95.45,262.95 93.83,264.02 94.36,262.16 92.83,260.95 94.77,260.87" fill="#1a1a1a"/>
<polygon points="100.15,259.05 100.83,260.87 102.77,260.95 101.24,262.16 101.77,264.02 100.15,262.95 98.53,264.02 99.06,262.16 97.53,260.95 99.47,260.87" fill="#1a1a1a"/>
<text x="66.4" y="359.2" font-size="8.8" text-anchor="middle" fill="#2b2b2b">con</text>
<text x="85.7" y="359.2" font-size="8.8" text-anchor="middle" fill="#2b2b2b">wt</text>
<text x="106" y="359.2" font-size="8.8" text-anchor="middle" fill="#2b2b2b" textLength="22.5" lengthAdjust="spacingAndGlyphs">E26A</text>
<line x1="77.2" y1="363.8" x2="121" y2="363.8" stroke="#000" stroke-width="1.15" stroke-linecap="butt"/>
<text x="99" y="375.3" font-size="8.8" text-anchor="middle" fill="#2b2b2b">FVIIa</text>
<text class="c" x="25.0" y="293.7" font-size="9.8" text-anchor="middle" fill="#2b2b2b" textLength="76" lengthAdjust="spacingAndGlyphs" transform="rotate(-90 25.0 293.7)" dy="2.55">IL-8 induction (fold)</text>
<g clip-path="url(#cd1)">
<clipPath id="cd1"><rect x="149.8" y="272.9" width="75.2" height="18.6"/></clipPath>
<rect x="149.80" y="272.90" width="75.20" height="18.60" fill="#dedede"/>
<g filter="url(#bl1_2)">
<rect x="152.50" y="283.60" width="15.00" height="2.80" rx="1.27" fill="#000" fill-opacity="0.85"/>
<rect x="152.00" y="282.10" width="16.00" height="5.00" rx="2.27" fill="#000" fill-opacity="0.2"/>
<rect x="168.45" y="276.70" width="21.50" height="5.80" rx="2.64" fill="#000" fill-opacity="1.0"/>
<rect x="188.00" y="276.70" width="16.00" height="5.80" rx="2.64" fill="#000" fill-opacity="1.0"/>
<rect x="204.35" y="276.70" width="20.50" height="5.80" rx="2.64" fill="#000" fill-opacity="1.0"/>
<rect x="168.95" y="283.80" width="20.50" height="4.20" rx="1.91" fill="#000" fill-opacity="1.0"/>
<rect x="188.25" y="283.80" width="15.50" height="4.20" rx="1.91" fill="#000" fill-opacity="1.0"/>
<rect x="204.85" y="283.80" width="19.50" height="4.20" rx="1.91" fill="#000" fill-opacity="1.0"/>
<rect x="168.95" y="278.15" width="20.50" height="8.50" rx="3.86" fill="#000" fill-opacity="0.9"/>
<rect x="188.25" y="278.15" width="15.50" height="8.50" rx="3.86" fill="#000" fill-opacity="0.9"/>
<rect x="204.85" y="278.15" width="19.50" height="8.50" rx="3.86" fill="#000" fill-opacity="0.9"/>
<rect x="170.00" y="279.25" width="52.00" height="6.50" rx="2.95" fill="#000" fill-opacity="0.5"/>
</g></g>
<rect x="149.8" y="272.9" width="75.2" height="18.6" fill="none" stroke="#2a2a2a" stroke-width="1.1"/>
<g clip-path="url(#cd2)">
<clipPath id="cd2"><rect x="149.8" y="294.2" width="75.2" height="17.7"/></clipPath>
<rect x="149.80" y="294.20" width="75.20" height="17.70" fill="#e6e6e6"/>
<g filter="url(#bl1_0)">
<rect x="171.70" y="301.90" width="15.00" height="2.60" rx="1.18" fill="#000" fill-opacity="0.6"/>
<rect x="189.25" y="302.20" width="12.50" height="2.40" rx="1.09" fill="#000" fill-opacity="0.42"/>
<rect x="206.20" y="301.30" width="16.00" height="3.40" rx="1.55" fill="#000" fill-opacity="1.0"/>
<rect x="207.70" y="301.70" width="13.00" height="2.60" rx="1.18" fill="#000" fill-opacity="0.7"/>
</g></g>
<rect x="149.8" y="294.2" width="75.2" height="17.7" fill="none" stroke="#2a2a2a" stroke-width="1.1"/>
<g clip-path="url(#cd3)">
<clipPath id="cd3"><rect x="149.8" y="315.2" width="75.2" height="17.4"/></clipPath>
<rect x="149.80" y="315.20" width="75.20" height="17.40" fill="#d4d4d4"/>
<g filter="url(#bl2_0)">
<rect x="151.75" y="321.05" width="16.50" height="7.50" rx="3.41" fill="#000" fill-opacity="0.24"/>
<rect x="170.95" y="321.05" width="16.50" height="7.50" rx="3.41" fill="#000" fill-opacity="0.32"/>
<rect x="187.75" y="321.05" width="16.50" height="7.50" rx="3.41" fill="#000" fill-opacity="0.32"/>
<rect x="206.35" y="321.05" width="16.50" height="7.50" rx="3.41" fill="#000" fill-opacity="0.3"/>
</g></g>
<rect x="149.8" y="315.2" width="75.2" height="17.4" fill="none" stroke="#2a2a2a" stroke-width="1.1"/>
<g clip-path="url(#cd4)">
<clipPath id="cd4"><rect x="149.8" y="335.9" width="75.2" height="17.8"/></clipPath>
<rect x="149.80" y="335.90" width="75.20" height="17.80" fill="#dadada"/>
<g filter="url(#bl1_2)">
<rect x="151.75" y="344.00" width="16.50" height="3.80" rx="1.73" fill="#000" fill-opacity="0.8"/>
<rect x="170.70" y="344.00" width="17.00" height="3.80" rx="1.73" fill="#000" fill-opacity="0.8"/>
<rect x="189.00" y="344.00" width="14.00" height="3.80" rx="1.73" fill="#000" fill-opacity="0.75"/>
<rect x="207.10" y="344.00" width="15.00" height="3.80" rx="1.73" fill="#000" fill-opacity="0.7"/>
<rect x="151.75" y="342.40" width="16.50" height="7.00" rx="3.18" fill="#000" fill-opacity="0.15"/>
<rect x="170.70" y="342.40" width="17.00" height="7.00" rx="3.18" fill="#000" fill-opacity="0.15"/>
<rect x="189.00" y="342.40" width="14.00" height="7.00" rx="3.18" fill="#000" fill-opacity="0.15"/>
<rect x="207.10" y="342.40" width="15.00" height="7.00" rx="3.18" fill="#000" fill-opacity="0.15"/>
</g></g>
<rect x="149.8" y="335.9" width="75.2" height="17.8" fill="none" stroke="#2a2a2a" stroke-width="1.1"/>
<text x="229" y="285.1" font-size="8.8" text-anchor="start" fill="#2b2b2b">arf6</text>
<text x="229" y="306.2" font-size="8.8" text-anchor="start" fill="#2b2b2b">HA-tag</text>
<text x="229" y="327.2" font-size="8.8" text-anchor="start" fill="#2b2b2b">TF</text>
<text x="229" y="349" font-size="8.8" text-anchor="start" fill="#2b2b2b">β1</text>
<path d="M137.8 276.20000000000005 L146 279.6 L137.8 283.0 L140.6 279.6 Z" fill="#000"/>
<path d="M137.8 282.40000000000003 L146 285.8 L137.8 289.2 L140.6 285.8 Z" fill="#000"/>
<text x="163.3" y="266" font-size="9.3" text-anchor="start" fill="#2b2b2b" textLength="27.8" lengthAdjust="spacingAndGlyphs" transform="rotate(-45 163.3 266)">control</text>
<text x="180.6" y="266" font-size="9.3" text-anchor="start" fill="#2b2b2b" textLength="9.5" lengthAdjust="spacingAndGlyphs" transform="rotate(-45 180.6 266)">wt</text>
<text x="200" y="266" font-size="9.3" text-anchor="start" fill="#2b2b2b" textLength="20.5" lengthAdjust="spacingAndGlyphs" transform="rotate(-45 200 266)">Q67L</text>
<text x="218" y="266" font-size="9.3" text-anchor="start" fill="#2b2b2b" textLength="20.5" lengthAdjust="spacingAndGlyphs" transform="rotate(-45 218 266)">T27N</text>
<line x1="322.2" y1="243.2" x2="322.2" y2="343.84999999999997" stroke="#111" stroke-width="1.3" stroke-linecap="butt"/>
<line x1="318.7" y1="343.2" x2="322.2" y2="343.2" stroke="#111" stroke-width="1.3" stroke-linecap="butt"/>
<text x="315.6" y="345.86499999999995" font-size="9.9" text-anchor="end" fill="#2b2b2b" textLength="4.75" lengthAdjust="spacingAndGlyphs" class="c">0</text>
<line x1="318.7" y1="311.06666666666666" x2="322.2" y2="311.06666666666666" stroke="#111" stroke-width="1.3" stroke-linecap="butt"/>
<text x="315.6" y="313.7316666666666" font-size="9.9" text-anchor="end" fill="#2b2b2b" textLength="11.6" lengthAdjust="spacingAndGlyphs" class="c">0.5</text>
<line x1="318.7" y1="278.93333333333334" x2="322.2" y2="278.93333333333334" stroke="#111" stroke-width="1.3" stroke-linecap="butt"/>
<text x="315.6" y="281.5983333333333" font-size="9.9" text-anchor="end" fill="#2b2b2b" textLength="11.6" lengthAdjust="spacingAndGlyphs" class="c">1.0</text>
<line x1="318.7" y1="246.8" x2="322.2" y2="246.8" stroke="#111" stroke-width="1.3" stroke-linecap="butt"/>
<text x="315.6" y="249.465" font-size="9.9" text-anchor="end" fill="#2b2b2b" textLength="11.6" lengthAdjust="spacingAndGlyphs" class="c">1.5</text>
<line x1="321.5" y1="343.2" x2="375" y2="343.2" stroke="#111" stroke-width="1.3" stroke-linecap="butt"/>
<line x1="331.75" y1="250.4" x2="331.75" y2="276.0" stroke="#111" stroke-width="1.1" stroke-linecap="butt"/>
<line x1="328.75" y1="250.4" x2="334.75" y2="250.4" stroke="#111" stroke-width="1.1" stroke-linecap="butt"/>
<line x1="328.75" y1="276.0" x2="334.75" y2="276.0" stroke="#111" stroke-width="1.1" stroke-linecap="butt"/>
<rect x="325.80" y="258.80" width="11.90" height="16.60" fill="#ad062b" stroke="#8c0a26" stroke-width="0.6"/>
<line x1="325.8" y1="271.0" x2="337.7" y2="271.0" stroke="#3a0510" stroke-width="1.3" stroke-linecap="butt"/>
<line x1="331.75" y1="343.2" x2="331.75" y2="346.2" stroke="#111" stroke-width="1.3" stroke-linecap="butt"/>
<line x1="348.85" y1="266.4" x2="348.85" y2="290.0" stroke="#111" stroke-width="1.1" stroke-linecap="butt"/>
<line x1="345.85" y1="266.4" x2="351.85" y2="266.4" stroke="#111" stroke-width="1.1" stroke-linecap="butt"/>
<line x1="345.85" y1="290.0" x2="351.85" y2="290.0" stroke="#111" stroke-width="1.1" stroke-linecap="butt"/>
<rect x="342.80" y="270.40" width="12.10" height="18.70" fill="#ad062b" stroke="#8c0a26" stroke-width="0.6"/>
<line x1="342.8" y1="276.8" x2="354.9" y2="276.8" stroke="#3a0510" stroke-width="1.3" stroke-linecap="butt"/>
<line x1="348.85" y1="343.2" x2="348.85" y2="346.2" stroke="#111" stroke-width="1.3" stroke-linecap="butt"/>
<line x1="366.2" y1="248.0" x2="366.2" y2="279.2" stroke="#111" stroke-width="1.1" stroke-linecap="butt"/>
<line x1="363.2" y1="248.0" x2="369.2" y2="248.0" stroke="#111" stroke-width="1.1" stroke-linecap="butt"/>
<line x1="363.2" y1="279.2" x2="369.2" y2="279.2" stroke="#111" stroke-width="1.1" stroke-linecap="butt"/>
<rect x="360.00" y="249.80" width="12.40" height="20.60" fill="#ad062b" stroke="#8c0a26" stroke-width="0.6"/>
<line x1="360.0" y1="257.0" x2="372.4" y2="257.0" stroke="#3a0510" stroke-width="1.3" stroke-linecap="butt"/>
<line x1="366.2" y1="343.2" x2="366.2" y2="346.2" stroke="#111" stroke-width="1.3" stroke-linecap="butt"/>
<line x1="348.5" y1="243.8" x2="366.5" y2="243.8" stroke="#000" stroke-width="1.35" stroke-linecap="butt"/>
<polygon points="358.20,236.75 358.88,238.57 360.82,238.65 359.29,239.86 359.82,241.72 358.20,240.65 356.58,241.72 357.11,239.86 355.58,238.65 357.52,238.57" fill="#1a1a1a"/>
<text x="329.3" y="354.7" font-size="9.8" text-anchor="start" fill="#2b2b2b" textLength="8.5" lengthAdjust="spacingAndGlyphs" transform="rotate(45 329.3 354.7)" class="c">wt</text>
<text x="345.4" y="354.7" font-size="9.8" text-anchor="start" fill="#2b2b2b" textLength="21.3" lengthAdjust="spacingAndGlyphs" transform="rotate(45 345.4 354.7)" class="c">Q67L</text>
<text x="362.5" y="354.7" font-size="9.8" text-anchor="start" fill="#2b2b2b" textLength="21.5" lengthAdjust="spacingAndGlyphs" transform="rotate(45 362.5 354.7)" class="c">T27N</text>
<text class="c" x="280.8" y="293.0" font-size="9.5" text-anchor="middle" fill="#2b2b2b" textLength="74.5" lengthAdjust="spacingAndGlyphs" transform="rotate(-90 280.8 293.0)" dy="2.47">Cell surface TF (% of</text>
<text class="c" x="294.3" y="293.6" font-size="9.5" text-anchor="middle" fill="#2b2b2b" textLength="91" lengthAdjust="spacingAndGlyphs" transform="rotate(-90 294.3 293.6)" dy="2.47">no transduction control)</text>
<line x1="434.2" y1="245.2" x2="434.2" y2="343.84999999999997" stroke="#111" stroke-width="1.3" stroke-linecap="butt"/>
<line x1="430.7" y1="343.2" x2="434.2" y2="343.2" stroke="#111" stroke-width="1.3" stroke-linecap="butt"/>
<text x="427.2" y="345.86499999999995" font-size="9.9" text-anchor="end" fill="#2b2b2b" textLength="4.75" lengthAdjust="spacingAndGlyphs" class="c">0</text>
<line x1="430.7" y1="323.9" x2="434.2" y2="323.9" stroke="#111" stroke-width="1.3" stroke-linecap="butt"/>
<text x="427.2" y="326.56499999999994" font-size="9.9" text-anchor="end" fill="#2b2b2b" textLength="11.6" lengthAdjust="spacingAndGlyphs" class="c">0.2</text>
<line x1="430.7" y1="304.59999999999997" x2="434.2" y2="304.59999999999997" stroke="#111" stroke-width="1.3" stroke-linecap="butt"/>
<text x="427.2" y="307.26499999999993" font-size="9.9" text-anchor="end" fill="#2b2b2b" textLength="11.6" lengthAdjust="spacingAndGlyphs" class="c">0.4</text>
<line x1="430.7" y1="285.3" x2="434.2" y2="285.3" stroke="#111" stroke-width="1.3" stroke-linecap="butt"/>
<text x="427.2" y="287.965" font-size="9.9" text-anchor="end" fill="#2b2b2b" textLength="11.6" lengthAdjust="spacingAndGlyphs" class="c">0.6</text>
<line x1="430.7" y1="266.0" x2="434.2" y2="266.0" stroke="#111" stroke-width="1.3" stroke-linecap="butt"/>
<text x="427.2" y="268.66499999999996" font-size="9.9" text-anchor="end" fill="#2b2b2b" textLength="11.6" lengthAdjust="spacingAndGlyphs" class="c">0.8</text>
<line x1="430.7" y1="246.7" x2="434.2" y2="246.7" stroke="#111" stroke-width="1.3" stroke-linecap="butt"/>
<text x="427.2" y="249.36499999999998" font-size="9.9" text-anchor="end" fill="#2b2b2b" textLength="11.6" lengthAdjust="spacingAndGlyphs" class="c">1.0</text>
<line x1="433.5" y1="343.2" x2="485.2" y2="343.2" stroke="#111" stroke-width="1.3" stroke-linecap="butt"/>
<line x1="442.75" y1="305.9" x2="442.75" y2="302.5" stroke="#111" stroke-width="1.35" stroke-linecap="butt"/>
<line x1="439.0" y1="302.5" x2="446.5" y2="302.5" stroke="#111" stroke-width="1.35" stroke-linecap="butt"/>
<rect x="435.80" y="305.90" width="13.90" height="37.30" fill="#ad062b"/>
<line x1="442.75" y1="343.2" x2="442.75" y2="346.2" stroke="#111" stroke-width="1.3" stroke-linecap="butt"/>
<line x1="459.85" y1="300.7" x2="459.85" y2="295.6" stroke="#111" stroke-width="1.35" stroke-linecap="butt"/>
<line x1="456.1" y1="295.6" x2="463.6" y2="295.6" stroke="#111" stroke-width="1.35" stroke-linecap="butt"/>
<rect x="453.00" y="300.70" width="13.70" height="42.50" fill="#ad062b"/>
<line x1="459.85" y1="343.2" x2="459.85" y2="346.2" stroke="#111" stroke-width="1.3" stroke-linecap="butt"/>
<line x1="477.1" y1="274.5" x2="477.1" y2="263.4" stroke="#111" stroke-width="1.35" stroke-linecap="butt"/>
<line x1="473.35" y1="263.4" x2="480.85" y2="263.4" stroke="#111" stroke-width="1.35" stroke-linecap="butt"/>
<rect x="470.30" y="274.50" width="13.60" height="68.70" fill="#ad062b"/>
<line x1="477.1" y1="343.2" x2="477.1" y2="346.2" stroke="#111" stroke-width="1.3" stroke-linecap="butt"/>
<line x1="443.5" y1="250.0" x2="480" y2="250.0" stroke="#000" stroke-width="1.35" stroke-linecap="butt"/>
<line x1="460.7" y1="260.9" x2="480" y2="260.9" stroke="#000" stroke-width="1.35" stroke-linecap="butt"/>
<polygon points="458.35,242.65 459.03,244.47 460.97,244.55 459.44,245.76 459.97,247.62 458.35,246.55 456.73,247.62 457.26,245.76 455.73,244.55 457.67,244.47" fill="#1a1a1a"/>
<polygon points="463.05,242.65 463.73,244.47 465.67,244.55 464.14,245.76 464.67,247.62 463.05,246.55 461.43,247.62 461.96,245.76 460.43,244.55 462.37,244.47" fill="#1a1a1a"/>
<polygon points="470.50,253.75 471.18,255.57 473.12,255.65 471.59,256.86 472.12,258.72 470.50,257.65 468.88,258.72 469.41,256.86 467.88,255.65 469.82,255.57" fill="#1a1a1a"/>
<text x="440.8" y="354.7" font-size="9.8" text-anchor="start" fill="#2b2b2b" textLength="8.5" lengthAdjust="spacingAndGlyphs" transform="rotate(45 440.8 354.7)" class="c">wt</text>
<text x="456.4" y="354.7" font-size="9.8" text-anchor="start" fill="#2b2b2b" textLength="21.3" lengthAdjust="spacingAndGlyphs" transform="rotate(45 456.4 354.7)" class="c">Q67L</text>
<text x="473" y="354.7" font-size="9.8" text-anchor="start" fill="#2b2b2b" textLength="21.5" lengthAdjust="spacingAndGlyphs" transform="rotate(45 473 354.7)" class="c">T27N</text>
<text class="c" x="407.0" y="293.4" font-size="9.8" text-anchor="middle" fill="#2b2b2b" textLength="52.5" lengthAdjust="spacingAndGlyphs" transform="rotate(-90 407.0 293.4)" dy="2.55">FXa (nM/min)</text>
<line x1="45.5" y1="409.2" x2="45.5" y2="466.95" stroke="#111" stroke-width="1.3" stroke-linecap="butt"/>
<line x1="42.0" y1="466.3" x2="45.5" y2="466.3" stroke="#111" stroke-width="1.3" stroke-linecap="butt"/>
<text x="38.4" y="468.965" font-size="9.9" text-anchor="end" fill="#2b2b2b" textLength="14.25" lengthAdjust="spacingAndGlyphs" class="c">100</text>
<line x1="42.0" y1="438.65" x2="45.5" y2="438.65" stroke="#111" stroke-width="1.3" stroke-linecap="butt"/>
<text x="38.4" y="441.31499999999994" font-size="9.9" text-anchor="end" fill="#2b2b2b" textLength="14.25" lengthAdjust="spacingAndGlyphs" class="c">150</text>
<line x1="42.0" y1="411.0" x2="45.5" y2="411.0" stroke="#111" stroke-width="1.3" stroke-linecap="butt"/>
<text x="38.4" y="413.66499999999996" font-size="9.9" text-anchor="end" fill="#2b2b2b" textLength="14.25" lengthAdjust="spacingAndGlyphs" class="c">200</text>
<line x1="41.8" y1="466.3" x2="49.0" y2="466.3" stroke="#111" stroke-width="1.3" stroke-linecap="butt"/>
<line x1="45.5" y1="476.7" x2="45.5" y2="531.4499999999999" stroke="#111" stroke-width="1.3" stroke-linecap="butt"/>
<line x1="42.0" y1="530.8" x2="45.5" y2="530.8" stroke="#111" stroke-width="1.3" stroke-linecap="butt"/>
<text x="38.4" y="533.465" font-size="9.9" text-anchor="end" fill="#2b2b2b" textLength="4.75" lengthAdjust="spacingAndGlyphs" class="c">0</text>
<line x1="42.0" y1="512.7666666666667" x2="45.5" y2="512.7666666666667" stroke="#111" stroke-width="1.3" stroke-linecap="butt"/>
<text x="38.4" y="515.4316666666667" font-size="9.9" text-anchor="end" fill="#2b2b2b" textLength="4.75" lengthAdjust="spacingAndGlyphs" class="c">5</text>
<line x1="42.0" y1="494.7333333333333" x2="45.5" y2="494.7333333333333" stroke="#111" stroke-width="1.3" stroke-linecap="butt"/>
<text x="38.4" y="497.39833333333326" font-size="9.9" text-anchor="end" fill="#2b2b2b" textLength="9.5" lengthAdjust="spacingAndGlyphs" class="c">10</text>
<line x1="42.0" y1="476.7" x2="45.5" y2="476.7" stroke="#111" stroke-width="1.3" stroke-linecap="butt"/>
<text x="38.4" y="479.36499999999995" font-size="9.9" text-anchor="end" fill="#2b2b2b" textLength="9.5" lengthAdjust="spacingAndGlyphs" class="c">15</text>
<line x1="41.8" y1="476.7" x2="49.0" y2="476.7" stroke="#111" stroke-width="1.3" stroke-linecap="butt"/>
<line x1="44.9" y1="530.8" x2="151.2" y2="530.8" stroke="#111" stroke-width="1.3" stroke-linecap="butt"/>
<line x1="52.400000000000006" y1="527.9" x2="52.400000000000006" y2="527.3" stroke="#111" stroke-width="1.0" stroke-linecap="butt"/>
<line x1="49.900000000000006" y1="527.3" x2="54.900000000000006" y2="527.3" stroke="#111" stroke-width="1.0" stroke-linecap="butt"/>
<rect x="47.60" y="527.90" width="9.60" height="2.90" fill="#ad062b"/>
<line x1="62.1" y1="528.2" x2="62.1" y2="526.3" stroke="#111" stroke-width="1.0" stroke-linecap="butt"/>
<line x1="59.6" y1="526.3" x2="64.6" y2="526.3" stroke="#111" stroke-width="1.0" stroke-linecap="butt"/>
<rect x="57.20" y="528.20" width="9.80" height="2.60" fill="#2c4b80"/>
<line x1="72.0" y1="527.9" x2="72.0" y2="527.2" stroke="#111" stroke-width="1.0" stroke-linecap="butt"/>
<line x1="69.5" y1="527.2" x2="74.5" y2="527.2" stroke="#111" stroke-width="1.0" stroke-linecap="butt"/>
<rect x="67.00" y="527.90" width="10.00" height="2.90" fill="#69a743"/>
<line x1="86.75" y1="491.7" x2="86.75" y2="489.2" stroke="#111" stroke-width="1.1" stroke-linecap="butt"/>
<line x1="84.0" y1="489.2" x2="89.5" y2="489.2" stroke="#111" stroke-width="1.1" stroke-linecap="butt"/>
<rect x="81.90" y="491.70" width="9.70" height="39.10" fill="#ad062b"/>
<line x1="96.69999999999999" y1="496.8" x2="96.69999999999999" y2="492.0" stroke="#111" stroke-width="1.1" stroke-linecap="butt"/>
<line x1="93.94999999999999" y1="492.0" x2="99.44999999999999" y2="492.0" stroke="#111" stroke-width="1.1" stroke-linecap="butt"/>
<rect x="91.60" y="496.80" width="10.20" height="34.00" fill="#2c4b80"/>
<line x1="107.0" y1="513.5" x2="107.0" y2="510.4" stroke="#111" stroke-width="1.1" stroke-linecap="butt"/>
<line x1="104.25" y1="510.4" x2="109.75" y2="510.4" stroke="#111" stroke-width="1.1" stroke-linecap="butt"/>
<rect x="101.80" y="513.50" width="10.40" height="17.30" fill="#69a743"/>
<line x1="121.5" y1="450.3" x2="121.5" y2="445.4" stroke="#111" stroke-width="1.1" stroke-linecap="butt"/>
<line x1="118.75" y1="445.4" x2="124.25" y2="445.4" stroke="#111" stroke-width="1.1" stroke-linecap="butt"/>
<rect x="116.40" y="450.30" width="10.20" height="15.90" fill="#ad062b"/>
<rect x="116.40" y="476.30" width="10.20" height="54.50" fill="#ad062b"/>
<line x1="131.55" y1="437.5" x2="131.55" y2="427.7" stroke="#111" stroke-width="1.1" stroke-linecap="butt"/>
<line x1="128.8" y1="427.7" x2="134.3" y2="427.7" stroke="#111" stroke-width="1.1" stroke-linecap="butt"/>
<rect x="126.60" y="437.50" width="9.90" height="28.70" fill="#2c4b80"/>
<rect x="126.60" y="476.30" width="9.90" height="54.50" fill="#2c4b80"/>
<line x1="141.4" y1="456.2" x2="141.4" y2="451.6" stroke="#111" stroke-width="1.1" stroke-linecap="butt"/>
<line x1="138.65" y1="451.6" x2="144.15" y2="451.6" stroke="#111" stroke-width="1.1" stroke-linecap="butt"/>
<rect x="136.50" y="456.20" width="9.80" height="10.00" fill="#69a743"/>
<rect x="136.50" y="476.30" width="9.80" height="54.50" fill="#69a743"/>
<line x1="62.3" y1="530.8" x2="62.3" y2="534" stroke="#111" stroke-width="1.3" stroke-linecap="butt"/>
<line x1="97.0" y1="530.8" x2="97.0" y2="534" stroke="#111" stroke-width="1.3" stroke-linecap="butt"/>
<line x1="131.4" y1="530.8" x2="131.4" y2="534" stroke="#111" stroke-width="1.3" stroke-linecap="butt"/>
<text x="56.6" y="526.2" font-size="10" text-anchor="middle" fill="#2b2b2b" class="c">ns</text>
<line x1="83.8" y1="482.7" x2="109.6" y2="482.7" stroke="#000" stroke-width="1.35" stroke-linecap="butt"/>
<polygon points="94.65,474.65 95.33,476.47 97.27,476.55 95.74,477.76 96.27,479.62 94.65,478.55 93.03,479.62 93.56,477.76 92.03,476.55 93.97,476.47" fill="#1a1a1a"/>
<polygon points="99.35,474.65 100.03,476.47 101.97,476.55 100.44,477.76 100.97,479.62 99.35,478.55 97.73,479.62 98.26,477.76 96.73,476.55 98.67,476.47" fill="#1a1a1a"/>
<rect x="150.20" y="409.30" width="9.80" height="10.60" fill="#ad062b"/>
<text x="163.5" y="417.5" font-size="8.5" text-anchor="start" fill="#2b2b2b">wt</text>
<rect x="150.20" y="421.40" width="9.80" height="10.60" fill="#2c4b80"/>
<text x="163.5" y="429.59999999999997" font-size="8.5" text-anchor="start" fill="#2b2b2b">Q67L</text>
<rect x="150.20" y="433.60" width="9.80" height="10.60" fill="#69a743"/>
<text x="163.5" y="441.8" font-size="8.5" text-anchor="start" fill="#2b2b2b">T27N</text>
<text x="59.6" y="541" font-size="9.3" text-anchor="start" fill="#2b2b2b" textLength="28" lengthAdjust="spacingAndGlyphs" transform="rotate(45 59.6 541)" class="c">control</text>
<text x="91.9" y="542.3" font-size="9.3" text-anchor="start" fill="#2b2b2b" textLength="19.6" lengthAdjust="spacingAndGlyphs" transform="rotate(45 91.9 542.3)" class="c">FVIIa</text>
<text x="126.5" y="542.3" font-size="9.3" text-anchor="start" fill="#2b2b2b" textLength="28" lengthAdjust="spacingAndGlyphs" transform="rotate(45 126.5 542.3)" class="c">SLIGRL</text>
<text class="c" x="13.6" y="469.3" font-size="9.5" text-anchor="middle" fill="#2b2b2b" textLength="75" lengthAdjust="spacingAndGlyphs" transform="rotate(-90 13.6 469.3)" dy="2.47">IL-8 induction (fold)</text>
<line x1="237.6" y1="420.0" x2="237.6" y2="531.75" stroke="#111" stroke-width="1.3" stroke-linecap="butt"/>
<line x1="234.1" y1="531.1" x2="237.6" y2="531.1" stroke="#111" stroke-width="1.3" stroke-linecap="butt"/>
<text x="230.7" y="533.7650000000001" font-size="9.9" text-anchor="end" fill="#2b2b2b" textLength="4.75" lengthAdjust="spacingAndGlyphs" class="c">0</text>
<line x1="234.1" y1="503.77500000000003" x2="237.6" y2="503.77500000000003" stroke="#111" stroke-width="1.3" stroke-linecap="butt"/>
<text x="230.7" y="506.44" font-size="9.9" text-anchor="end" fill="#2b2b2b" textLength="9.5" lengthAdjust="spacingAndGlyphs" class="c">20</text>
<line x1="234.1" y1="476.45000000000005" x2="237.6" y2="476.45000000000005" stroke="#111" stroke-width="1.3" stroke-linecap="butt"/>
<text x="230.7" y="479.115" font-size="9.9" text-anchor="end" fill="#2b2b2b" textLength="9.5" lengthAdjust="spacingAndGlyphs" class="c">40</text>
<line x1="234.1" y1="449.125" x2="237.6" y2="449.125" stroke="#111" stroke-width="1.3" stroke-linecap="butt"/>
<text x="230.7" y="451.78999999999996" font-size="9.9" text-anchor="end" fill="#2b2b2b" textLength="9.5" lengthAdjust="spacingAndGlyphs" class="c">60</text>
<line x1="234.1" y1="421.8" x2="237.6" y2="421.8" stroke="#111" stroke-width="1.3" stroke-linecap="butt"/>
<text x="230.7" y="424.465" font-size="9.9" text-anchor="end" fill="#2b2b2b" textLength="9.5" lengthAdjust="spacingAndGlyphs" class="c">80</text>
<line x1="236.9" y1="531.1" x2="332.1" y2="531.1" stroke="#111" stroke-width="1.3" stroke-linecap="butt"/>
<line x1="246.7" y1="510.2" x2="246.7" y2="504.7" stroke="#111" stroke-width="1.35" stroke-linecap="butt"/>
<line x1="243.2" y1="504.7" x2="250.2" y2="504.7" stroke="#111" stroke-width="1.35" stroke-linecap="butt"/>
<line x1="259.9" y1="511.8" x2="259.9" y2="505.3" stroke="#111" stroke-width="1.35" stroke-linecap="butt"/>
<line x1="256.4" y1="505.3" x2="263.4" y2="505.3" stroke="#111" stroke-width="1.35" stroke-linecap="butt"/>
<rect x="240.20" y="510.20" width="13.00" height="20.90" fill="#ad062b"/>
<rect x="253.20" y="511.80" width="13.40" height="19.30" fill="#69a743"/>
<line x1="253.2" y1="531.1" x2="253.2" y2="534.3" stroke="#111" stroke-width="1.3" stroke-linecap="butt"/>
<line x1="277.65" y1="475.0" x2="277.65" y2="469.2" stroke="#111" stroke-width="1.35" stroke-linecap="butt"/>
<line x1="274.15" y1="469.2" x2="281.15" y2="469.2" stroke="#111" stroke-width="1.35" stroke-linecap="butt"/>
<line x1="291.35" y1="496.0" x2="291.35" y2="490.2" stroke="#111" stroke-width="1.35" stroke-linecap="butt"/>
<line x1="287.85" y1="490.2" x2="294.85" y2="490.2" stroke="#111" stroke-width="1.35" stroke-linecap="butt"/>
<rect x="270.80" y="475.00" width="13.70" height="56.10" fill="#ad062b"/>
<rect x="284.50" y="496.00" width="13.70" height="35.10" fill="#69a743"/>
<line x1="284.5" y1="531.1" x2="284.5" y2="534.3" stroke="#111" stroke-width="1.3" stroke-linecap="butt"/>
<line x1="309.05" y1="455.3" x2="309.05" y2="448.2" stroke="#111" stroke-width="1.35" stroke-linecap="butt"/>
<line x1="305.55" y1="448.2" x2="312.55" y2="448.2" stroke="#111" stroke-width="1.35" stroke-linecap="butt"/>
<line x1="322.8" y1="481.1" x2="322.8" y2="474.0" stroke="#111" stroke-width="1.35" stroke-linecap="butt"/>
<line x1="319.3" y1="474.0" x2="326.3" y2="474.0" stroke="#111" stroke-width="1.35" stroke-linecap="butt"/>
<rect x="302.10" y="455.30" width="13.90" height="75.80" fill="#ad062b"/>
<rect x="316.00" y="481.10" width="13.60" height="50.00" fill="#69a743"/>
<line x1="316.0" y1="531.1" x2="316.0" y2="534.3" stroke="#111" stroke-width="1.3" stroke-linecap="butt"/>
<line x1="275.6" y1="464.4" x2="291.8" y2="464.4" stroke="#000" stroke-width="1.35" stroke-linecap="butt"/>
<polygon points="283.70,454.65 284.38,456.47 286.32,456.55 284.79,457.76 285.32,459.62 283.70,458.55 282.08,459.62 282.61,457.76 281.08,456.55 283.02,456.47" fill="#1a1a1a"/>
<rect x="246.00" y="404.70" width="12.60" height="12.80" fill="#ad062b"/>
<rect x="246.00" y="420.20" width="12.60" height="12.60" fill="#69a743"/>
<text x="262" y="414.2" font-size="8.8" text-anchor="start" fill="#2b2b2b" textLength="27.5" lengthAdjust="spacingAndGlyphs">control</text>
<text x="262" y="429.6" font-size="8.8" text-anchor="start" fill="#2b2b2b">SH3</text>
<text x="253.2" y="546.6" font-size="9" text-anchor="middle" fill="#2b2b2b">0</text>
<text x="284.5" y="546.6" font-size="9" text-anchor="middle" fill="#2b2b2b">10</text>
<text x="315.6" y="546.6" font-size="9" text-anchor="middle" fill="#2b2b2b">50</text>
<line x1="237" y1="552" x2="333.7" y2="552" stroke="#000" stroke-width="1.15" stroke-linecap="butt"/>
<text x="284.7" y="562.7" font-size="8.8" text-anchor="middle" fill="#2b2b2b">FVIIa (nM)</text>
<text class="c" x="212.2" y="476.0" font-size="9.8" text-anchor="middle" fill="#2b2b2b" textLength="51" lengthAdjust="spacingAndGlyphs" transform="rotate(-90 212.2 476.0)" dy="2.55">Cells per area</text>
<line x1="380.8" y1="420.2" x2="380.8" y2="532.35" stroke="#111" stroke-width="1.3" stroke-linecap="butt"/>
<line x1="377.3" y1="531.7" x2="380.8" y2="531.7" stroke="#111" stroke-width="1.3" stroke-linecap="butt"/>
<text x="373.7" y="534.3650000000001" font-size="9.9" text-anchor="end" fill="#2b2b2b" textLength="4.75" lengthAdjust="spacingAndGlyphs" class="c">0</text>
<line x1="377.3" y1="495.3" x2="380.8" y2="495.3" stroke="#111" stroke-width="1.3" stroke-linecap="butt"/>
<text x="373.7" y="497.965" font-size="9.9" text-anchor="end" fill="#2b2b2b" textLength="9.5" lengthAdjust="spacingAndGlyphs" class="c">20</text>
<line x1="377.3" y1="458.90000000000003" x2="380.8" y2="458.90000000000003" stroke="#111" stroke-width="1.3" stroke-linecap="butt"/>
<text x="373.7" y="461.565" font-size="9.9" text-anchor="end" fill="#2b2b2b" textLength="9.5" lengthAdjust="spacingAndGlyphs" class="c">40</text>
<line x1="377.3" y1="422.5" x2="380.8" y2="422.5" stroke="#111" stroke-width="1.3" stroke-linecap="butt"/>
<text x="373.7" y="425.16499999999996" font-size="9.9" text-anchor="end" fill="#2b2b2b" textLength="9.5" lengthAdjust="spacingAndGlyphs" class="c">60</text>
<line x1="380.1" y1="531.7" x2="473.3" y2="531.7" stroke="#111" stroke-width="1.3" stroke-linecap="butt"/>
<line x1="390.4" y1="492.6" x2="390.4" y2="485.0" stroke="#111" stroke-width="1.35" stroke-linecap="butt"/>
<line x1="386.65" y1="485.0" x2="394.15" y2="485.0" stroke="#111" stroke-width="1.35" stroke-linecap="butt"/>
<rect x="382.60" y="492.60" width="15.60" height="39.10" fill="#ad062b"/>
<line x1="390.4" y1="531.7" x2="390.4" y2="534.9" stroke="#111" stroke-width="1.3" stroke-linecap="butt"/>
<text x="390.4" y="547.3" font-size="9" text-anchor="middle" fill="#2b2b2b">-</text>
<text x="390.4" y="559.8" font-size="9" text-anchor="middle" fill="#2b2b2b">-</text>
<line x1="408.75" y1="485.7" x2="408.75" y2="478.0" stroke="#111" stroke-width="1.35" stroke-linecap="butt"/>
<line x1="405.0" y1="478.0" x2="412.5" y2="478.0" stroke="#111" stroke-width="1.35" stroke-linecap="butt"/>
<rect x="401.30" y="485.70" width="14.90" height="46.00" fill="#ad062b"/>
<line x1="408.75" y1="531.7" x2="408.75" y2="534.9" stroke="#111" stroke-width="1.3" stroke-linecap="butt"/>
<text x="408.75" y="547.3" font-size="9" text-anchor="middle" fill="#2b2b2b">+</text>
<text x="408.75" y="559.8" font-size="9" text-anchor="middle" fill="#2b2b2b">-</text>
<line x1="427.05" y1="496.0" x2="427.05" y2="489.2" stroke="#111" stroke-width="1.35" stroke-linecap="butt"/>
<line x1="423.3" y1="489.2" x2="430.8" y2="489.2" stroke="#111" stroke-width="1.35" stroke-linecap="butt"/>
<rect x="419.60" y="496.00" width="14.90" height="35.70" fill="#ad062b"/>
<line x1="427.05" y1="531.7" x2="427.05" y2="534.9" stroke="#111" stroke-width="1.3" stroke-linecap="butt"/>
<text x="427.05" y="547.3" font-size="9" text-anchor="middle" fill="#2b2b2b">-</text>
<text x="427.05" y="559.8" font-size="9" text-anchor="middle" fill="#2b2b2b">+</text>
<line x1="445.75" y1="444.2" x2="445.75" y2="432.0" stroke="#111" stroke-width="1.35" stroke-linecap="butt"/>
<line x1="442.0" y1="432.0" x2="449.5" y2="432.0" stroke="#111" stroke-width="1.35" stroke-linecap="butt"/>
<rect x="438.00" y="444.20" width="15.50" height="87.50" fill="#ad062b"/>
<line x1="445.75" y1="531.7" x2="445.75" y2="534.9" stroke="#111" stroke-width="1.3" stroke-linecap="butt"/>
<text x="445.75" y="547.3" font-size="9" text-anchor="middle" fill="#2b2b2b">+</text>
<text x="445.75" y="559.8" font-size="9" text-anchor="middle" fill="#2b2b2b">-</text>
<line x1="464.4" y1="492.0" x2="464.4" y2="482.2" stroke="#111" stroke-width="1.35" stroke-linecap="butt"/>
<line x1="460.65" y1="482.2" x2="468.15" y2="482.2" stroke="#111" stroke-width="1.35" stroke-linecap="butt"/>
<rect x="456.60" y="492.00" width="15.60" height="39.70" fill="#ad062b"/>
<line x1="464.4" y1="531.7" x2="464.4" y2="534.9" stroke="#111" stroke-width="1.3" stroke-linecap="butt"/>
<text x="464.4" y="547.3" font-size="9" text-anchor="middle" fill="#2b2b2b">-</text>
<text x="464.4" y="559.8" font-size="9" text-anchor="middle" fill="#2b2b2b">+</text>
<polygon points="443.35,423.05 444.03,424.87 445.97,424.95 444.44,426.16 444.97,428.02 443.35,426.95 441.73,428.02 442.26,426.16 440.73,424.95 442.67,424.87" fill="#1a1a1a"/>
<polygon points="448.05,423.05 448.73,424.87 450.67,424.95 449.14,426.16 449.67,428.02 448.05,426.95 446.43,428.02 446.96,426.16 445.43,424.95 447.37,424.87" fill="#1a1a1a"/>
<text x="476.8" y="545.9" font-size="8.6" text-anchor="start" fill="#2b2b2b" textLength="17.8" lengthAdjust="spacingAndGlyphs">FVIIa</text>
<text x="495.2" y="547.4" font-size="6.4" text-anchor="start" fill="#111" textLength="9.0" lengthAdjust="spacingAndGlyphs">wt</text>
<text x="476.8" y="558.8" font-size="8.6" text-anchor="start" fill="#2b2b2b" textLength="17.8" lengthAdjust="spacingAndGlyphs">FVIIa</text>
<text x="495.2" y="560.6" font-size="6.4" text-anchor="start" fill="#111" textLength="17.0" lengthAdjust="spacingAndGlyphs">E26A</text>
<line x1="403.3" y1="564.5" x2="432.8" y2="564.5" stroke="#000" stroke-width="1.15" stroke-linecap="butt"/>
<line x1="440.4" y1="564.5" x2="470.8" y2="564.5" stroke="#000" stroke-width="1.15" stroke-linecap="butt"/>
<text x="417.8" y="575.2" font-size="8.8" text-anchor="middle" fill="#2b2b2b" textLength="24.5" lengthAdjust="spacingAndGlyphs">10 nM</text>
<text x="455.6" y="575.2" font-size="8.8" text-anchor="middle" fill="#2b2b2b" textLength="24.5" lengthAdjust="spacingAndGlyphs">50 nM</text>
<text class="c" x="355.3" y="476.0" font-size="9.8" text-anchor="middle" fill="#2b2b2b" textLength="51" lengthAdjust="spacingAndGlyphs" transform="rotate(-90 355.3 476.0)" dy="2.55">Cells per area</text>
</svg>
</body></html>
